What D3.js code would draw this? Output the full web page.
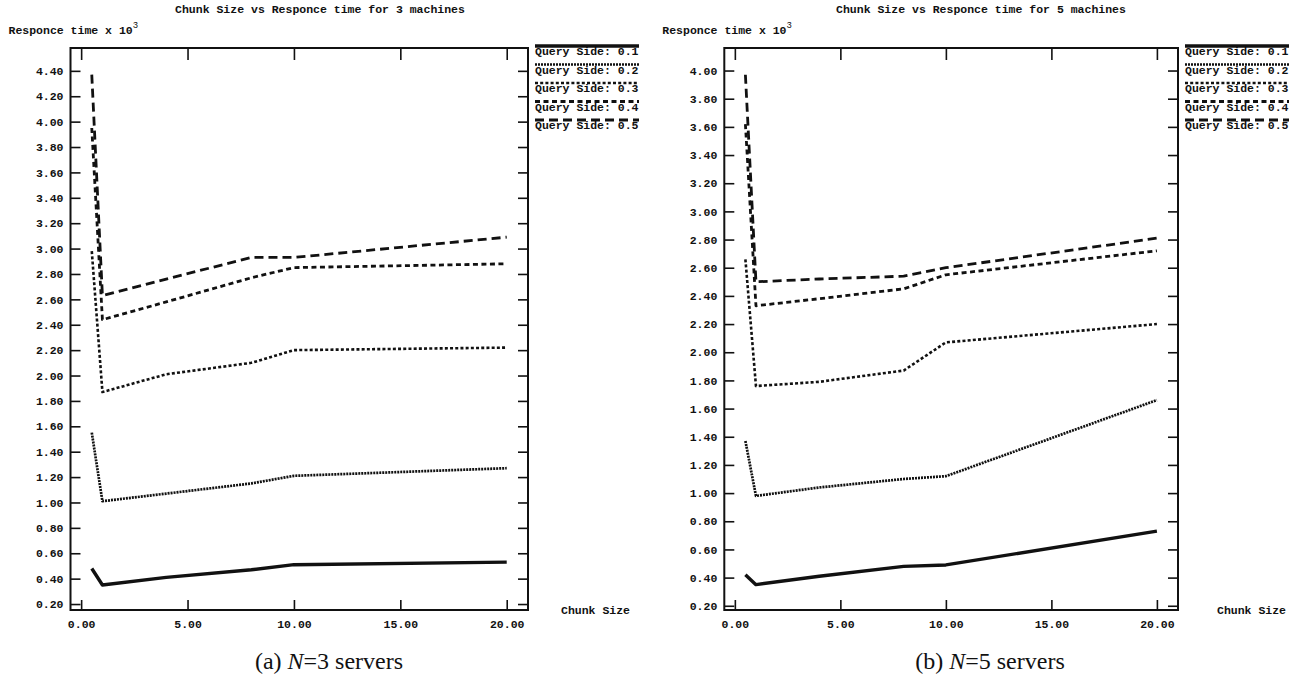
<!DOCTYPE html>
<html>
<head>
<meta charset="utf-8">
<script src="https://cdn.jsdelivr.net/npm/d3@7"></script>
<style>
    body { margin: 0; background: #fff; }
    svg { display: block; }
    .mono { font-family: "Liberation Mono", "DejaVu Sans Mono", monospace; font-weight: bold; font-size: 11.5px; fill: #111; }
    .caption { font-family: "Liberation Serif", "DejaVu Serif", serif; font-size: 24px; fill: #111; }
</style>
</head>
<body>
<svg width="1297" height="688"></svg>
<script>
// chunk sizes measured (x)
var chunkSizes = [0.5, 1, 4, 8, 10, 20];
var querySides = ["0.1", "0.2", "0.3", "0.4", "0.5"];

// response time x 10^3, one row per query side, 3 machines
var respN3 = [
    [0.48, 0.35, 0.41, 0.47, 0.51, 0.53],
    [1.55, 1.01, 1.07, 1.15, 1.21, 1.27],
    [2.98, 1.87, 2.01, 2.10, 2.20, 2.22],
    [3.95, 2.44, 2.58, 2.77, 2.85, 2.88],
    [4.37, 2.63, 2.76, 2.93, 2.93, 3.09]
];

// same for 5 machines
var respN5 = [
    [0.42, 0.35, 0.41, 0.48, 0.49, 0.73],
    [1.37, 0.98, 1.04, 1.10, 1.12, 1.66],
    [2.66, 1.76, 1.79, 1.87, 2.07, 2.20],
    [3.62, 2.33, 2.38, 2.45, 2.55, 2.72],
    [3.97, 2.50, 2.52, 2.54, 2.60, 2.81]
];

var xTicks = [0, 5, 10, 15, 20];
var yTicksN3 = [0.2, 0.4, 0.6, 0.8, 1.0, 1.2, 1.4, 1.6, 1.8, 2.0, 2.2, 2.4, 2.6, 2.8, 3.0, 3.2, 3.4, 3.6, 3.8, 4.0, 4.2, 4.4];
var yTicksN5 = [0.2, 0.4, 0.6, 0.8, 1.0, 1.2, 1.4, 1.6, 1.8, 2.0, 2.2, 2.4, 2.6, 2.8, 3.0, 3.2, 3.4, 3.6, 3.8, 4.0];

var svg = d3.select("svg");

// line look per query side
var dashFor = ["none", "2,1", "3,2.2", "5,3.5", "9,5"];
var widthFor = [3.4, 2.7, 2.6, 2.8, 2.8];

function drawPanel(p) {
    var x = d3.scaleLinear().domain([-0.5, 21]).range([p.left, p.right]);
    var y = d3.scaleLinear().domain(p.yDomain).range([p.bottom, p.top]);
    var fmt = d3.format(".2f");
    var g = svg.append("g");

    g.append("text").attr("class", "mono")
        .attr("x", p.titleX).attr("y", 13)
        .attr("text-anchor", "middle")
        .text(p.title);

    var yl = g.append("text").attr("class", "mono")
        .attr("x", p.left - 62).attr("y", 34)
        .text("Responce time x 10");
    yl.append("tspan").attr("dy", -6).style("font-size", "9px").style("font-weight", "normal").text("3");

    // axes, ticks pointing inward
    g.append("g").attr("class", "mono")
        .attr("transform", "translate(" + p.left + ",0)")
        .call(d3.axisLeft(y).tickValues(p.yTicks).tickSize(-10).tickSizeOuter(0).tickPadding(7).tickFormat(fmt));
    g.append("g")
        .attr("transform", "translate(" + p.right + ",0)")
        .call(d3.axisRight(y).tickValues(p.yTicks).tickSize(-10).tickSizeOuter(0).tickFormat(""));
    g.append("g").attr("class", "mono")
        .attr("transform", "translate(0," + p.bottom + ")")
        .call(d3.axisBottom(x).tickValues(xTicks).tickSize(-10).tickSizeOuter(0).tickPadding(10).tickFormat(fmt));
    g.append("g")
        .attr("transform", "translate(0," + p.top + ")")
        .call(d3.axisTop(x).tickValues(xTicks).tickSize(-12).tickSizeOuter(0).tickFormat(""));

    g.selectAll(".domain").remove();
    g.selectAll(".tick line").attr("stroke", "#111").attr("stroke-width", 1.6);
    g.selectAll(".tick text").attr("fill", "#111").style("font-size", "11.5px");

    g.append("rect")
        .attr("x", p.left).attr("y", p.top)
        .attr("width", p.right - p.left).attr("height", p.bottom - p.top)
        .attr("fill", "none").attr("stroke", "#111").attr("stroke-width", 2);

    g.append("text").attr("class", "mono")
        .attr("x", p.right + p.chunkGap).attr("y", p.bottom + 4)
        .text("Chunk Size");

    var line = d3.line()
        .x(function(d, i) { return x(chunkSizes[i]); })
        .y(function(d) { return y(d); });

    g.selectAll(".series")
        .data(p.series)
        .enter().append("path")
        .attr("class", "series")
        .attr("d", line)
        .attr("fill", "none")
        .attr("stroke", "#111")
        .attr("stroke-linejoin", "round")
        .attr("stroke-width", function(d, i) { return widthFor[i]; })
        .attr("stroke-dasharray", function(d, i) { return dashFor[i]; });

    // legend: sample line drawn over each label
    var leg = g.selectAll(".leg")
        .data(querySides)
        .enter().append("g")
        .attr("class", "leg")
        .attr("transform", function(d, i) { return "translate(" + (p.right + 7) + "," + (55 + i * 18.5) + ")"; });
    leg.append("line")
        .attr("x1", 0).attr("x2", 104)
        .attr("y1", -9).attr("y2", -9)
        .attr("stroke", "#111")
        .attr("stroke-width", function(d, i) { return widthFor[i]; })
        .attr("stroke-dasharray", function(d, i) { return dashFor[i]; });
    leg.append("text").attr("class", "mono")
        .attr("x", 0).attr("y", 0)
        .text(function(d) { return "Query Side: " + d; });

    var cap = g.append("text").attr("class", "caption")
        .attr("x", p.captionX).attr("y", 669)
        .attr("text-anchor", "middle");
    cap.append("tspan").text("(" + p.letter + ") ");
    cap.append("tspan").style("font-style", "italic").text("N");
    cap.append("tspan").text("=" + p.machines + " servers");
}

drawPanel({
    left: 70.5, right: 528, top: 48, bottom: 610,
    yDomain: [0.153, 4.58], yTicks: yTicksN3, series: respN3,
    title: "Chunk Size vs Responce time for 3 machines",
    titleX: 320, captionX: 329, chunkGap: 33, letter: "a", machines: 3
});

drawPanel({
    left: 724.3, right: 1178, top: 48, bottom: 610,
    yDomain: [0.17, 4.16], yTicks: yTicksN5, series: respN5,
    title: "Chunk Size vs Responce time for 5 machines",
    titleX: 981, captionX: 990, chunkGap: 39, letter: "b", machines: 5
});
</script>
</body>
</html>
